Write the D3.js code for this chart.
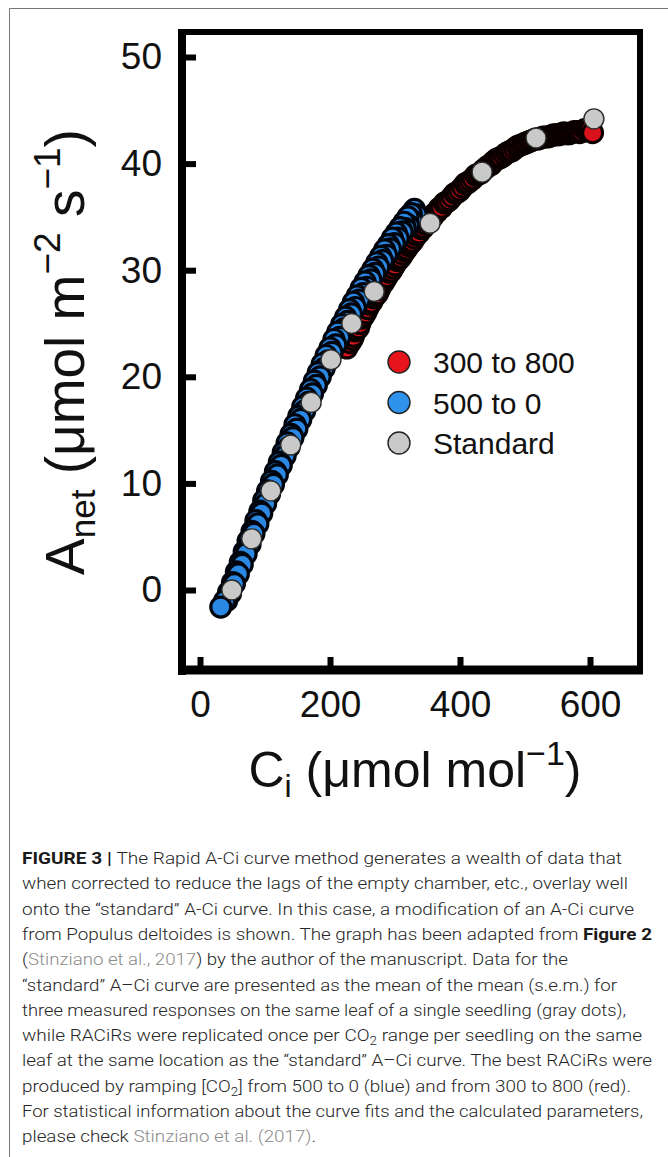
<!DOCTYPE html>
<html>
<head>
<meta charset="utf-8">
<script src="https://cdn.jsdelivr.net/npm/d3@7"></script>
<style>
body { margin: 0; background: #fff; }
svg { display: block; font-family: "Liberation Sans", Arial, sans-serif; }
</style>
</head>
<body>
<svg id="fig" width="668" height="1157"></svg>
<script>
// "standard" A-Ci curve (gray dots)
var stdCi = [49, 79.5, 109, 139.5, 171, 201.5, 233.5, 268, 354, 434, 517, 606];
var stdA  = [0.0, 4.8, 9.3, 13.6, 17.6, 21.6, 25.0, 28.0, 34.4, 39.2, 42.4, 44.2];

// RACiR 500 to 0 (blue), two overlapping passes, high Ci first
var blueCi = [330, 333, 325, 327, 320, 321, 314, 316, 308, 311, 302, 305, 296, 299, 290, 293, 284, 287, 278, 281,
              272, 275, 266, 269, 260, 263, 254, 257, 248, 251, 242, 245, 236, 239, 230, 233, 224, 227, 218, 221,
              212, 215, 206, 209, 200, 203, 194, 197, 188, 191, 182, 185, 176, 179, 170, 173, 164, 167, 158, 161,
              152, 155, 146, 149, 140, 143, 134, 137, 128, 131, 122, 125, 116, 119, 110, 113, 104, 107, 98, 101,
              92, 95, 86, 89, 80, 83, 74, 77, 68, 71, 62, 65, 56, 59, 50, 53, 44, 47, 41, 38, 32];
var blueA  = [35.7, 35.2, 35.3, 34.6, 35.0, 34.2, 34.5, 33.9, 34.0, 33.6, 33.5, 33.0, 33.0, 32.5, 32.4, 32.0, 31.9, 31.4, 31.3, 30.9,
              30.7, 30.3, 30.1, 29.7, 29.5, 29.1, 28.9, 28.4, 28.3, 27.8, 27.6, 27.2, 27.0, 26.5, 26.3, 25.9, 25.6, 25.2, 24.9, 24.5,
              24.2, 23.7, 23.5, 23.0, 22.7, 22.3, 22.0, 21.5, 21.2, 20.8, 20.4, 20.0, 19.6, 19.2, 18.8, 18.4, 18.0, 17.6, 17.2, 16.8,
              16.3, 16.0, 15.5, 15.1, 14.6, 14.3, 13.8, 13.4, 12.9, 12.6, 12.0, 11.7, 11.1, 10.8, 10.2, 9.9, 9.3, 9.0, 8.4, 8.1,
              7.4, 7.2, 6.5, 6.2, 5.5, 5.3, 4.6, 4.3, 3.6, 3.4, 2.6, 2.4, 1.7, 1.5, 0.7, 0.6, -0.2, -0.3, -1.0, -1.0, -1.6];

// RACiR 300 to 800 (red), two overlapping passes, low Ci first
var redCi = [226, 229, 231, 234, 236, 239, 241, 244, 246, 249, 252, 255, 258, 261, 264, 267, 270, 273, 276, 279,
             282, 285, 288, 291, 294, 297, 300, 303, 306, 309, 312, 315, 318, 321, 324, 327, 330, 333, 337, 340,
             344, 347, 351, 354, 358, 361, 365, 368, 372, 376, 380, 384, 388, 392, 396, 400, 404, 408, 412, 416,
             420, 424, 428, 432, 436, 440, 444, 448, 452, 456, 460, 464, 468, 472, 476, 480, 484, 488, 492, 496,
             500, 504, 508, 512, 516, 520, 524, 528, 532, 536, 540, 544, 548, 552, 556, 560, 564, 568, 572, 576,
             580, 584, 588, 592, 596, 600, 604];
var redA  = [22.7, 23.3, 23.2, 23.5, 23.8, 24.3, 24.4, 24.6, 25.0, 25.5, 25.7, 26.0, 26.4, 26.8, 27.0, 27.4, 27.6, 27.8, 28.2, 28.6,
             28.8, 29.1, 29.4, 29.8, 29.9, 30.2, 30.5, 30.9, 31.0, 31.2, 31.5, 31.8, 32.0, 32.3, 32.5, 32.7, 33.0, 33.3, 33.5, 33.9,
             34.0, 34.3, 34.5, 34.9, 35.0, 35.3, 35.5, 35.8, 35.9, 36.3, 36.4, 36.6, 36.9, 37.2, 37.3, 37.5, 37.8, 38.1, 38.2, 38.4,
             38.6, 38.9, 39.0, 39.1, 39.4, 39.6, 39.8, 39.9, 40.2, 40.4, 40.5, 40.6, 40.8, 41.0, 41.1, 41.2, 41.4, 41.6, 41.7, 41.8,
             41.9, 42.0, 42.1, 42.2, 42.3, 42.3, 42.4, 42.5, 42.5, 42.5, 42.6, 42.7, 42.7, 42.7, 42.8, 42.9, 42.8, 42.8, 42.9, 43.0,
             43.0, 42.9, 43.0, 43.2, 43.1, 43.1, 42.9];

var xTicks = [0, 200, 400, 600];
var yTicks = [0, 10, 20, 30, 40, 50];
var legendLabels = ["300 to 800", "500 to 0", "Standard"];
var legendColors = ["#e8141b", "#2f93ee", "#c9c9c9"];

var captionLines = [
    [["FIGURE 3 | ", "b"], ["The Rapid A-Ci curve method generates a wealth of data that", ""]],
    [["when corrected to reduce the lags of the empty chamber, etc., overlay well", ""]],
    [["onto the \u201cstandard\u201d A-Ci curve. In this case, a modification of an A-Ci curve", ""]],
    [["from Populus deltoides is shown. The graph has been adapted from ", ""], ["Figure 2", "b"]],
    [["(", ""], ["Stinziano et al., 2017", "g"], [") by the author of the manuscript. Data for the", ""]],
    [["\u201cstandard\u201d A\u2013Ci curve are presented as the mean of the mean (s.e.m.) for", ""]],
    [["three measured responses on the same leaf of a single seedling (gray dots),", ""]],
    [["while RACiRs were replicated once per CO", ""], ["2", "s"], [" range per seedling on the same", ""]],
    [["leaf at the same location as the \u201cstandard\u201d A\u2013Ci curve. The best RACiRs were", ""]],
    [["produced by ramping [CO", ""], ["2", "s"], ["] from 500 to 0 (blue) and from 300 to 800 (red).", ""]],
    [["For statistical information about the curve fits and the calculated parameters,", ""]],
    [["please check ", ""], ["Stinziano et al. (2017)", "g"], [".", ""]]
];
var captionWidths = [600, 606, 612, 630, 546, 595, 604, 620, 630, 609, 621, 294];

var svg = d3.select("#fig");

// outer panel border
svg.append("path")
    .attr("d", "M9.5,1157 V8.5 H668")
    .attr("fill", "none").attr("stroke", "#777").attr("stroke-width", 1);

var x = d3.scaleLinear().domain([0, 600]).range([200, 590]);
var y = d3.scaleLinear().domain([0, 50]).range([590, 57]);

var frame = {l: 182, r: 640, t: 32, b: 670};

// points
var pts = svg.append("g");
function drawSeries(ci, a, fill, stroke, sw) {
    pts.append("g").selectAll("circle")
        .data(d3.range(ci.length))
        .join("circle")
        .attr("cx", i => x(ci[i]))
        .attr("cy", i => y(a[i]))
        .attr("r", 10)
        .attr("fill", fill)
        .attr("stroke", stroke)
        .attr("stroke-width", sw);
}
drawSeries(redCi, redA, "#d8121a", "#0a0000", 3);
drawSeries(blueCi, blueA, "#2b88e2", "#00040c", 3.2);
drawSeries(stdCi, stdA, legendColors[2], "#2a2a2a", 1.4);

// axes
var yAxis = svg.append("g")
    .attr("transform", "translate(" + frame.l + ",0)")
    .call(d3.axisLeft(y).tickValues(yTicks).tickSize(-14).tickPadding(20));
var xAxis = svg.append("g")
    .attr("transform", "translate(0," + frame.b + ")")
    .call(d3.axisBottom(x).tickValues(xTicks).tickSize(-13).tickPadding(21));
[yAxis, xAxis].forEach(function(g) {
    g.select(".domain").remove();
    g.selectAll(".tick line").attr("stroke", "#000").attr("stroke-width", 6);
    g.selectAll(".tick text").attr("fill", "#111")
        .style("font-size", "37px").style("font-family", "Liberation Sans, Arial, sans-serif");
});

// frame
svg.append("line").attr("x1", frame.l).attr("x2", frame.l).attr("y1", frame.t - 3).attr("y2", frame.b + 5)
    .attr("stroke", "#000").attr("stroke-width", 8);
svg.append("line").attr("x1", frame.l - 4).attr("x2", frame.r + 3).attr("y1", frame.b).attr("y2", frame.b)
    .attr("stroke", "#000").attr("stroke-width", 9);
svg.append("line").attr("x1", frame.l - 4).attr("x2", frame.r + 3).attr("y1", frame.t).attr("y2", frame.t)
    .attr("stroke", "#000").attr("stroke-width", 6);
svg.append("line").attr("x1", frame.r).attr("x2", frame.r).attr("y1", frame.t - 3).attr("y2", frame.b + 4)
    .attr("stroke", "#000").attr("stroke-width", 6);

// legend
var lg = svg.append("g").attr("transform", "translate(399,362)");
legendLabels.forEach(function(lab, i) {
    lg.append("circle").attr("cx", 0).attr("cy", i * 40.5).attr("r", 11)
        .attr("fill", legendColors[i]).attr("stroke", "#222").attr("stroke-width", 1.4);
    lg.append("text").attr("x", 34).attr("y", i * 40.5 + 11)
        .style("font-size", "30px").attr("fill", "#111").text(lab);
});

// axis titles
var xt = svg.append("text").attr("x", 415).attr("y", 787).attr("text-anchor", "middle")
    .style("font-size", "50px").attr("fill", "#111");
xt.append("tspan").text("C");
xt.append("tspan").attr("dy", 10).style("font-size", "32px").text("i");
xt.append("tspan").attr("dy", -10).text(" (\u03bcmol mol");
xt.append("tspan").attr("dy", -22).style("font-size", "34px").text("\u22121");
xt.append("tspan").attr("dy", 22).text(")");

var yt = svg.append("text").attr("transform", "translate(84,352) rotate(-90)").attr("text-anchor", "middle")
    .style("font-size", "55px").attr("fill", "#111");
yt.append("tspan").text("A");
yt.append("tspan").attr("dy", 11).style("font-size", "35px").text("net");
yt.append("tspan").attr("dy", -11).text(" (\u03bcmol m");
yt.append("tspan").attr("dy", -24).style("font-size", "37px").text("\u22122");
yt.append("tspan").attr("dy", 24).text(" s");
yt.append("tspan").attr("dy", -24).style("font-size", "37px").text("\u22121");
yt.append("tspan").attr("dy", 24).text(")");

// caption
var cap = svg.append("g").style("font-family", "Roboto, 'Liberation Sans', sans-serif")
    .style("font-size", "17px");
captionLines.forEach(function(line, i) {
    var t = cap.append("text").attr("x", 22).attr("y", 864 + i * 25.3)
        .attr("fill", "#262626").style("font-weight", 300)
        .attr("textLength", captionWidths[i]).attr("lengthAdjust", "spacingAndGlyphs");
    line.forEach(function(seg) {
        var s = t.append("tspan").text(seg[0]);
        if (seg[1] === "b") s.style("font-weight", 700).attr("fill", "#1a1a1a");
        if (seg[1] === "g") s.attr("fill", "#8c8c8c");
        if (seg[1] === "s") s.attr("dy", 4).style("font-size", "12px");
    });
    // restore baseline after subscripts
    t.selectAll("tspan").each(function(d, j, nodes) {
        var prev = j > 0 ? d3.select(nodes[j - 1]) : null;
        if (prev && prev.attr("dy") === "4") d3.select(this).attr("dy", -4);
    });
});
</script>
</body>
</html>
